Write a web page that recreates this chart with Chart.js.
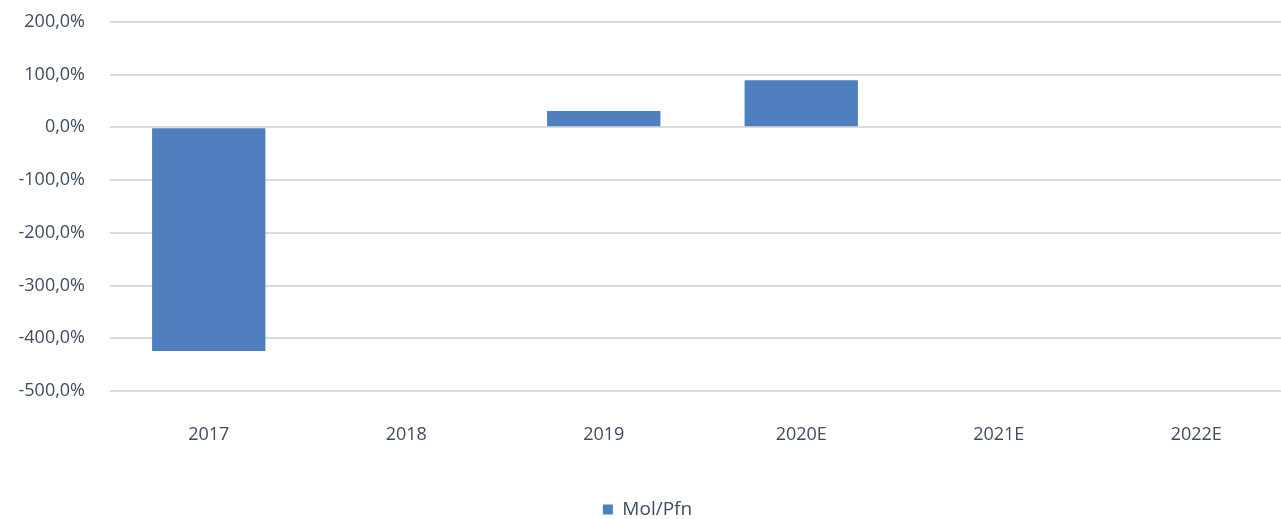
<!DOCTYPE html>
<html>
<head>
<meta charset="utf-8">
<script src="https://cdn.jsdelivr.net/npm/chart.js@4"></script>
<style>
html,body{margin:0;padding:0;background:#fff;overflow:hidden;width:1281px;height:519px;}
#wrap{position:absolute;left:0;top:0;width:1295px;height:529px;}
</style>
</head>
<body>
<div id="wrap"><canvas id="c" width="1295" height="529"></canvas></div>
<script>
const categories = ['2017', '2018', '2019', '2020E', '2021E', '2022E'];
const seriesName = 'Mol/Pfn';
const seriesValues = [-424, null, 31, 89, null, null];
const yMin = -500, yMax = 200, yStep = 100;

const textColor = '#3f4d60';
const fontFamily = '"Open Sans", "Noto Sans", sans-serif';

new Chart(document.getElementById('c'), {
  type: 'bar',
  data: {
    labels: categories,
    datasets: [{
      label: seriesName,
      data: seriesValues,
      backgroundColor: '#4f7fbe',
      borderWidth: 0,
      categoryPercentage: 1,
      barPercentage: 0.574
    }]
  },
  options: {
    responsive: false,
    animation: false,
    layout: { padding: 0 },
    scales: {
      x: {
        grid: { display: false },
        border: { display: false },
        afterFit: s => { s.height = 109; },
        ticks: { color: textColor, font: { family: fontFamily, size: 18 }, padding: 25 },
      },
      y: {
        min: yMin, max: yMax,
        grid: { color: '#dcdcdc', lineWidth: 2, tickLength: 14, tickColor: 'rgba(0,0,0,0)' },
        border: { display: false },
        afterFit: s => { s.width = 110; },
        ticks: {
          stepSize: yStep,
          color: textColor,
          padding: 11,
          font: { family: fontFamily, size: 18 },
          callback: v => v.toFixed(1).replace('.', ',') + '%'
        }
      }
    },
    plugins: {
      legend: {
        position: 'bottom',
        labels: { color: textColor, font: { family: fontFamily, size: 19 }, boxWidth: 10, boxHeight: 10, padding: 0 }
      },
      tooltip: { enabled: false }
    }
  }
});
</script>
</body>
</html>
